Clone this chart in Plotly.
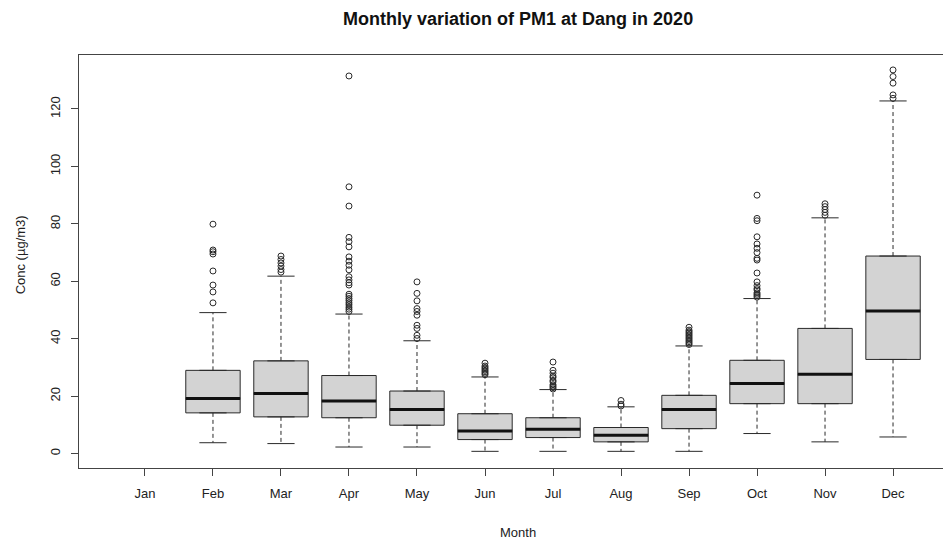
import plotly.graph_objects as go

months = ["Jan", "Feb", "Mar", "Apr", "May", "Jun", "Jul", "Aug", "Sep", "Oct", "Nov", "Dec"]
# Box statistics for Feb..Dec (Jan has no data)
box_months = ["Feb", "Mar", "Apr", "May", "Jun", "Jul", "Aug", "Sep", "Oct", "Nov", "Dec"]
q1 = [14.2, 12.8, 12.5, 9.9, 4.9, 5.6, 4.1, 8.7, 17.4, 17.4, 32.8]
median = [19.2, 20.9, 18.3, 15.4, 7.9, 8.5, 6.4, 15.4, 24.4, 27.6, 49.7]
q3 = [29.0, 32.3, 27.2, 21.8, 13.9, 12.5, 9.1, 20.3, 32.5, 43.6, 68.8]
lower_whisker = [3.8, 3.5, 2.3, 2.3, 0.8, 0.8, 0.8, 0.8, 7.0, 4.1, 5.8]
upper_whisker = [49.1, 61.8, 48.6, 39.3, 26.7, 22.3, 16.3, 37.5, 54.0, 82.1, 122.8]
outliers = [
    [79.9, 70.9, 70.3, 69.5, 63.6, 58.7, 56.3, 52.5],
    [68.8, 67.6, 66.4, 65.3, 64.1, 63.2],
    [131.5, 92.9, 86.2, 75.3, 73.8, 72.0, 68.5, 67.0, 65.6, 64.0, 61.6, 60.5, 59.5, 58.7,
     55.5, 54.8, 54.0, 53.3, 52.5, 51.8, 51.0, 50.3, 49.5],
    [59.8, 55.8, 53.2, 50.5, 49.5, 48.2, 44.7, 43.6, 41.2, 40.1],
    [31.5, 30.5, 30.0, 29.5, 29.0, 28.5, 28.0, 27.5],
    [31.9, 29.0, 28.0, 27.0, 26.5, 25.5, 25.0, 24.0, 23.5, 23.0, 22.5],
    [18.5, 17.2, 16.6],
    [44.0, 43.0, 42.5, 42.0, 41.5, 41.0, 40.5, 40.0, 39.5, 39.0, 38.5, 38.0],
    [90.0, 81.9, 81.1, 75.5, 73.0, 71.5, 70.0, 68.0, 67.4, 62.9, 59.8, 58.5, 57.5, 57.0,
     56.0, 55.5, 55.0, 54.5],
    [87.0, 86.0, 85.0, 84.0, 83.0],
    [133.6, 131.3, 129.0, 124.9, 123.7],
]
y_ticks = [0, 20, 40, 60, 80, 100, 120]

pos = [months.index(m) + 1 for m in box_months]
box_w = 0.8
cap_w = 0.4
edge = "#2a2a2a"
text_col = "#222222"
font_fam = "Liberation Sans, Arial, sans-serif"

fig = go.Figure()

# Boxes (fill + outline); whiskers drawn separately so they can be dashed
fig.add_trace(go.Box(
    x=pos, q1=q1, median=median, q3=q3, lowerfence=q1, upperfence=q3,
    width=box_w, fillcolor="#d3d3d3", line=dict(color=edge, width=1),
    boxpoints=False, hoverinfo="skip", showlegend=False,
))

wx, wy, cx, cy, mx, my = [], [], [], [], [], []
for p, a, b, c, lo, hi in zip(pos, q1, median, q3, lower_whisker, upper_whisker):
    wx += [p, p, None, p, p, None]
    wy += [c, hi, None, a, lo, None]
    cx += [p - cap_w / 2, p + cap_w / 2, None, p - cap_w / 2, p + cap_w / 2, None]
    cy += [hi, hi, None, lo, lo, None]
    mx += [p - box_w / 2, p + box_w / 2, None]
    my += [b, b, None]

fig.add_trace(go.Scatter(x=wx, y=wy, mode="lines", line=dict(color=edge, width=1, dash="4px,3px"),
                         hoverinfo="skip", showlegend=False))
fig.add_trace(go.Scatter(x=cx, y=cy, mode="lines", line=dict(color=edge, width=1),
                         hoverinfo="skip", showlegend=False))
fig.add_trace(go.Scatter(x=mx, y=my, mode="lines", line=dict(color="#111111", width=3),
                         hoverinfo="skip", showlegend=False))

ox, oy = [], []
for p, vals in zip(pos, outliers):
    ox += [p] * len(vals)
    oy += vals
fig.add_trace(go.Scatter(x=ox, y=oy, mode="markers",
                         marker=dict(symbol="circle-open", size=6, color=edge, line=dict(width=1)),
                         hoverinfo="skip", showlegend=False))

fig.update_layout(
    width=951, height=539,
    margin=dict(l=71, r=0, t=47, b=79),
    plot_bgcolor="white", paper_bgcolor="white",
    font=dict(family=font_fam, size=13, color=text_col),
    title=dict(text="<b>Monthly variation of PM1 at Dang in 2020</b>",
               x=0.499, xref="paper", xanchor="center",
               y=1 - 11 / 539, yref="container", yanchor="middle",
               font=dict(size=18, color="#111111")),
    xaxis=dict(range=[0.03, 12.97], tickvals=list(range(1, 13)), ticktext=months,
               showgrid=False, zeroline=False, showline=True, mirror=True,
               linecolor="#444444", linewidth=1, ticks="outside", ticklen=7,
               tickcolor="#444444", ticklabelstandoff=6),
    yaxis=dict(range=[-5.0, 138.8], tickvals=y_ticks,
               showgrid=False, zeroline=False, showline=True, mirror=True,
               linecolor="#444444", linewidth=1, ticks="outside", ticklen=7,
               tickcolor="#444444", tickangle=-90, ticklabelstandoff=6),
    annotations=[
        dict(text="Month", x=0.499, xref="paper", y=-0.155, yref="paper",
             xanchor="center", yanchor="middle", showarrow=False, font=dict(size=13)),
        dict(text="Conc (µg/m3)", x=-0.067, xref="paper", y=0.515, yref="paper",
             textangle=-90, xanchor="center", yanchor="middle", showarrow=False,
             font=dict(size=13)),
    ],
)

fig.write_html("out.html")
